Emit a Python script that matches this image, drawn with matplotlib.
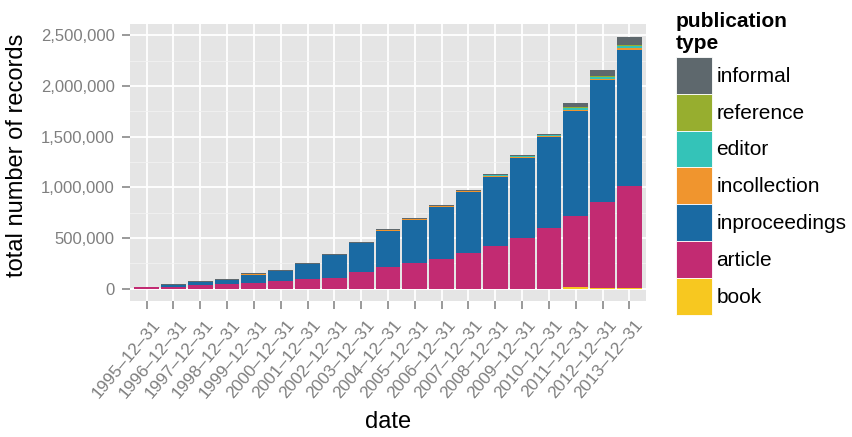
import numpy as np
import matplotlib
import matplotlib.pyplot as plt
import matplotlib.transforms as mtransforms
from matplotlib.patches import Patch
from matplotlib.ticker import FixedLocator, FuncFormatter

matplotlib.use('Agg')

plt.rcParams['font.family'] = ['Liberation Sans', 'DejaVu Sans']

# cumulative record counts per publication type (thousands)
dates = ['1995-12-31', '1996-12-31', '1997-12-31', '1998-12-31', '1999-12-31',
         '2000-12-31', '2001-12-31', '2002-12-31', '2003-12-31', '2004-12-31',
         '2005-12-31', '2006-12-31', '2007-12-31', '2008-12-31', '2009-12-31',
         '2010-12-31', '2011-12-31', '2012-12-31', '2013-12-31']
book          = [0, 0, 0, 0, 0, 0, 0, 0, 0, 0, 0, 0, 0, 0, 0, 0, 13, 10, 10]
article       = [14, 17, 36, 50, 56, 76, 95, 109, 166, 214, 254, 293, 352, 424, 503, 602, 707, 848, 1006]
inproceedings = [2, 24, 33, 39, 79, 98, 148, 220, 285, 355, 424, 513, 604, 678, 786, 895, 1033, 1201, 1339]
incollection  = [0, 0, 0, 0, 10, 0, 0, 0, 0, 13, 10, 7, 8, 13, 10, 10, 13, 13, 23]
editor        = [0, 0, 0, 0, 0, 0, 0, 0, 0, 0, 0, 6, 4, 7, 10, 9, 16, 20, 20]
reference     = [0, 0, 0, 0, 0, 0, 0, 0, 0, 0, 0, 0, 0, 0, 0, 2, 7, 10, 10]
informal      = [1, 5, 7, 7, 10, 10, 10, 13, 10, 7, 7, 7, 6, 10, 10, 8, 43, 56, 76]

series = [('book', book, '#F7C820'),
          ('article', article, '#C22B72'),
          ('inproceedings', inproceedings, '#1A6AA3'),
          ('incollection', incollection, '#F0952E'),
          ('editor', editor, '#34C3B8'),
          ('reference', reference, '#97AE2F'),
          ('informal', informal, '#5E686D')]

fig = plt.figure(figsize=(8.52, 4.37), dpi=100)
ax = fig.add_axes([0.1526, 0.3101, 0.6056, 0.6339])

x = np.arange(len(dates))
bottom = np.zeros(len(dates))
for name, vals, col in series:
    v = np.array(vals) * 1000.0
    ax.bar(x, v, width=0.93, bottom=bottom, color=col, linewidth=0, zorder=3)
    bottom += v

# ggplot-like panel
ax.set_facecolor('#E5E5E5')
for s in ax.spines.values():
    s.set_visible(False)
ax.set_xlim(-0.615, len(dates) - 1 + 0.615)
ax.set_ylim(-126000, 2607000)

yt = [0, 500000, 1000000, 1500000, 2000000, 2500000]
ax.yaxis.set_major_locator(FixedLocator(yt))
ax.yaxis.set_minor_locator(FixedLocator([250000, 750000, 1250000, 1750000, 2250000]))
ax.yaxis.set_major_formatter(FuncFormatter(lambda v, p: f'{int(v):,}'))

ax.grid(which='major', color='white', linewidth=1.3, zorder=1)
ax.grid(which='minor', axis='y', color='#F2F2F2', linewidth=0.6, zorder=1)
ax.set_axisbelow(True)

ax.tick_params(axis='both', which='major', length=6, width=1.1, color='#7F7F7F',
               labelcolor='#7F7F7F')
ax.tick_params(axis='y', labelsize=12.0, pad=5)
ax.tick_params(axis='x', pad=5.2)
ax.tick_params(axis='y', which='minor', length=0)

# rotated date labels, nudged right like ggplot's hjust=1
ax.set_xticks(x)
ax.set_xticklabels([d.replace('-', '\u2013') for d in dates], rotation=50,
                   ha='right', va='top', rotation_mode='anchor', fontsize=12.4)
shift = mtransforms.ScaledTranslation(5 / 100, 0, fig.dpi_scale_trans)
for lab in ax.get_xticklabels():
    lab.set_transform(lab.get_transform() + shift)

ax.set_xlabel('date', fontsize=17, va='center')
ax.xaxis.set_label_coords(0.5, -0.435)
ax.set_ylabel('total number of records', fontsize=17, va='center')
ax.yaxis.set_label_coords(-0.219, 0.527)

handles = [Patch(facecolor=col, edgecolor='white', linewidth=0.6, label=name)
           for name, vals, col in reversed(series)]
leg = fig.legend(handles=handles, loc='upper left', bbox_to_anchor=(669 / 852, 1 - 5 / 437),
                 frameon=False, fontsize=15, title='publication\ntype',
                 title_fontproperties={'weight': 'bold', 'size': 15},
                 handlelength=1.76, handleheight=2.35, labelspacing=0.0,
                 handletextpad=0.2, borderpad=0.32, borderaxespad=0, alignment='left')
leg._legend_box.sep = 2.9  # gap between title and keys

fig.savefig('out.png', dpi=100)
